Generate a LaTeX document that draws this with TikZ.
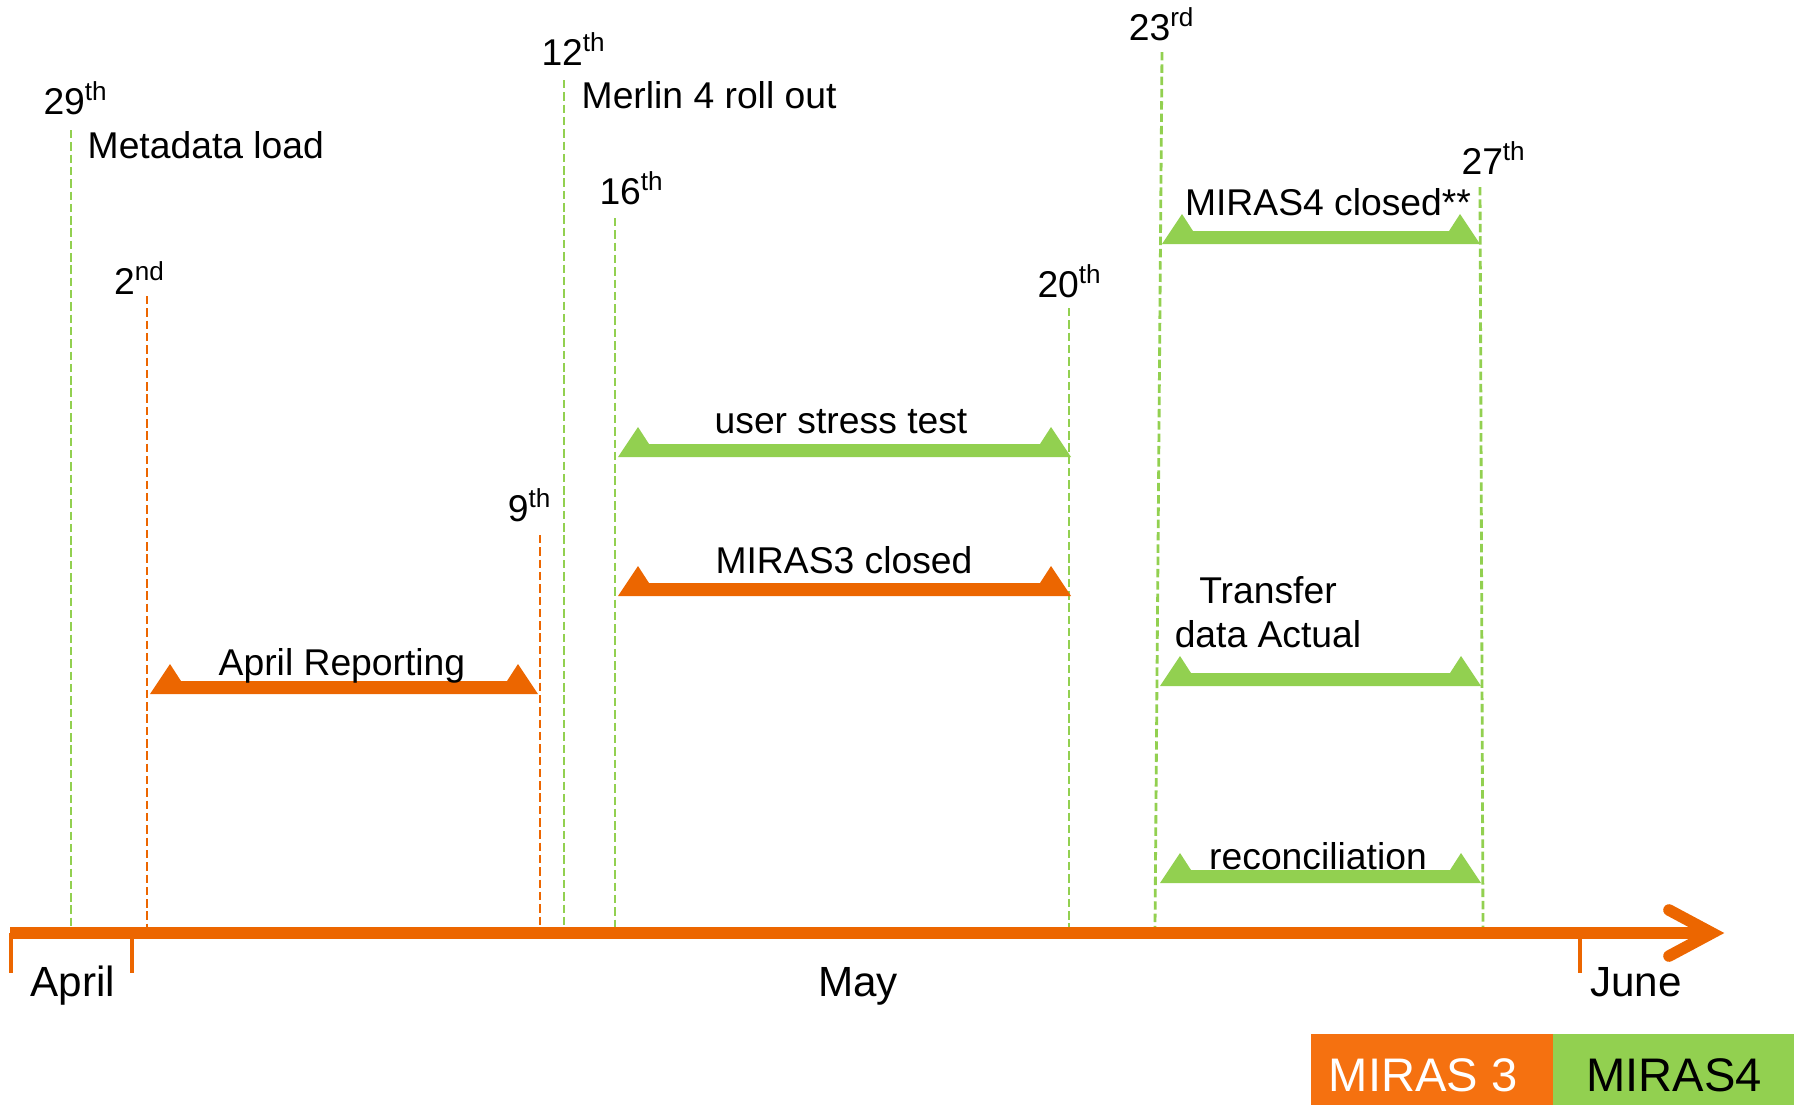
\documentclass[tikz,border=0pt]{standalone}
\usepackage{fontspec}
\setmainfont{Liberation Sans}
\usepackage{tikz}

\definecolor{mirasorange}{RGB}{236,102,0}
\definecolor{legendorange}{RGB}{245,113,16}
\definecolor{mirasgreen}{RGB}{146,208,80}

\tikzset{
  gdash/.style={draw=mirasgreen, line width=0.8pt, dash pattern=on 2.4pt off 1.1pt},
  odash/.style={draw=mirasorange, line width=0.8pt, dash pattern=on 2.4pt off 1.1pt},
  datelbl/.style={anchor=base, inner sep=0pt, font=\fontsize{10.6}{12}\selectfont},
  barlbl/.style={anchor=base, inner sep=0pt, font=\fontsize{10.6}{12}\selectfont},
  monthlbl/.style={anchor=base, inner sep=0pt, font=\fontsize{12}{14}\selectfont},
  leglbl/.style={anchor=base, inner sep=0pt, font=\fontsize{13.4}{16}\selectfont},
  axisline/.style={draw=mirasorange, line width=3.5pt},
  tickline/.style={draw=mirasorange, line width=1.1pt},
}

\begin{document}
\begin{tikzpicture}[x=0.01cm, y=-0.01cm]
\useasboundingbox (0,0) rectangle (1800,1105);

% dashed date lines
\foreach \nm/\sty/\xt/\yt/\xb in {d29/gdash/71/130/71, d2/odash/147/296/147,
    d9/odash/540/535/540, d12/gdash/564/80/564, d16/gdash/615/218/615,
    d20/gdash/1069/308/1069, d23/gdash/1162/52/1155, d27/gdash/1480/187/1483} {
  \coordinate (\nm t) at (\xt,\yt);
  \coordinate (\nm b) at (\xb,927);
  \draw[\sty] (\nm t) -- (\nm b);
}

\node[datelbl] (l29) at (76,114) {29\textsuperscript{th}};
\node[datelbl] (l2) at (140,294) {2\textsuperscript{nd}};
\node[datelbl] (l9) at (530,521) {9\textsuperscript{th}};
\node[datelbl] (l12) at (574,65) {12\textsuperscript{th}};
\node[datelbl] (l16) at (632,204) {16\textsuperscript{th}};
\node[datelbl] (l20) at (1070,297) {20\textsuperscript{th}};
\node[datelbl] (l23) at (1162,40) {23\textsuperscript{rd}};
\node[datelbl] (l27) at (1494,174) {27\textsuperscript{th}};

\node[barlbl, anchor=base west] (meta) at (87,158) {Metadata load};
\node[barlbl, anchor=base west] (merlin) at (581,108) {Merlin 4 roll out};

% bars with raised ends
\foreach \nm/\c/\xa/\xb/\yb in {april/mirasorange/150/538/694,
    closedthree/mirasorange/618/1071/596, stress/mirasgreen/618/1071/457,
    closedfour/mirasgreen/1162/1480/244, transfer/mirasgreen/1160/1481/686,
    recon/mirasgreen/1160/1481/883} {
  \coordinate (\nm L) at (\xa,\yb);
  \coordinate (\nm R) at (\xb,\yb);
  \fill[\c] (\nm L) -- ++(20,-30) -- ++(11,17) -- ([shift={(-31,-13)}]\nm R)
    -- ++(11,-17) -- (\nm R) -- cycle;
}

\node[barlbl] (aprtxt) at (342,675) {April Reporting};
\node[barlbl] (m3txt) at (844,573) {MIRAS3 closed};
\node[barlbl] (usttxt) at (841,433) {user stress test};
\node[barlbl] (m4txt) at (1328,215) {MIRAS4 closed**};
\node[barlbl] (trtxt) at (1268,603) {Transfer};
\node[barlbl] (datxt) at (1268,647) {data Actual};
\node[barlbl] (rectxt) at (1318,869) {reconciliation};

% time axis
\coordinate (ax0) at (10,933);
\coordinate (ax1) at (1708,933);
\coordinate (tip) at (1712,933);
\coordinate (armup) at (1669,910);
\coordinate (armdn) at (1669,956);
\draw[axisline] (ax0) -- (ax1);
\draw[axisline, line width=3.3pt, line cap=round] (armup) -- (tip) -- (armdn);

\coordinate (t0) at (11,933);
\coordinate (t0b) at (11,973);
\coordinate (t1) at (132,933);
\coordinate (t1b) at (132,973);
\coordinate (t2) at (1580,933);
\coordinate (t2b) at (1580,973);
\draw[tickline] (t0) -- (t0b);
\draw[tickline] (t1) -- (t1b);
\draw[tickline] (t2) -- (t2b);

\node[monthlbl] (apr) at (73,996) {April};
\node[monthlbl] (may) at (858,996) {May};
\node[monthlbl] (jun) at (1636,996) {June};

% legend
\fill[legendorange] (1311,1034) rectangle (1553,1105);
\fill[mirasgreen] (1553,1034) rectangle (1794,1105);
\node[leglbl, text=white] (leg3) at (1423,1091) {MIRAS 3};
\node[leglbl] (leg4) at (1674,1091) {MIRAS4};

\end{tikzpicture}
\end{document}
